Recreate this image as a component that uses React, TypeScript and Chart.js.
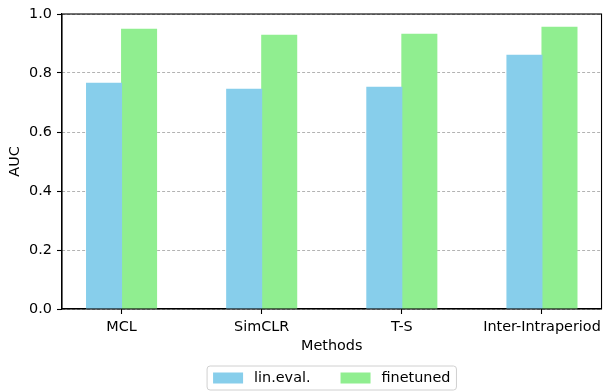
import React, { useEffect, useRef } from "react";
import { Chart, registerables } from "chart.js";

Chart.register(...registerables);

const categories = ["MCL", "SimCLR", "T-S", "Inter-Intraperiod"];
const linEval = [0.765, 0.745, 0.752, 0.86];
const finetuned = [0.948, 0.928, 0.931, 0.955];
const yTicks = [0, 0.2, 0.4, 0.6, 0.8, 1.0];
const seriesLabels = ["lin.eval.", "finetuned"];
const seriesColors = ["#87CEEB", "#90EE90"];

const FONT = "DejaVu Sans";
const FS = 14.4;

const framePlugin = {
  id: "frameAndLegend",
  afterDraw(chart: any) {
    const { ctx, chartArea: a } = chart;
    ctx.save();
    // spines
    ctx.strokeStyle = "#000";
    ctx.lineWidth = 1.1;
    ctx.strokeRect(a.left, a.top, a.right - a.left, a.bottom - a.top);

    // legend
    ctx.font = `${FS}px "${FONT}"`;
    const pad = 6, handle = 30, textPad = 11, colSpace = 30;
    const widths = seriesLabels.map((l) => ctx.measureText(l).width);
    const total = pad * 2 + seriesLabels.length * (handle + textPad) + widths.reduce((s, w) => s + w, 0) + colSpace * (seriesLabels.length - 1);
    const cx = (a.left + a.right) / 2;
    const left = cx - total / 2;
    const top = a.bottom + 57;
    const h = 24;
    const r = 3;
    ctx.beginPath();
    ctx.moveTo(left + r, top);
    ctx.arcTo(left + total, top, left + total, top + h, r);
    ctx.arcTo(left + total, top + h, left, top + h, r);
    ctx.arcTo(left, top + h, left, top, r);
    ctx.arcTo(left, top, left + total, top, r);
    ctx.closePath();
    ctx.fillStyle = "rgba(255,255,255,0.8)";
    ctx.fill();
    ctx.strokeStyle = "#d0d0d0";
    ctx.lineWidth = 1;
    ctx.stroke();

    let x = left + pad;
    const midY = top + h / 2;
    seriesLabels.forEach((label, i) => {
      ctx.fillStyle = seriesColors[i];
      ctx.fillRect(x, midY - 5.5, handle, 11);
      x += handle + textPad;
      ctx.fillStyle = "#000";
      ctx.textBaseline = "middle";
      ctx.textAlign = "left";
      ctx.fillText(label, x, midY);
      x += widths[i] + colSpace;
    });
    ctx.restore();
  },
};

export default function App() {
  const ref = useRef<HTMLCanvasElement | null>(null);

  useEffect(() => {
    if (!ref.current) return;
    const chart = new Chart(ref.current, {
      type: "bar",
      data: {
        datasets: [
          {
            label: seriesLabels[0],
            data: linEval.map((v, i) => ({ x: i, y: v })),
            backgroundColor: seriesColors[0],
            borderWidth: 0,
            inflateAmount: 0.5,
            categoryPercentage: 0.5,
            barPercentage: 1.0,
          },
          {
            label: seriesLabels[1],
            data: finetuned.map((v, i) => ({ x: i, y: v })),
            backgroundColor: seriesColors[1],
            borderWidth: 0,
            inflateAmount: 0.5,
            categoryPercentage: 0.5,
            barPercentage: 1.0,
          },
        ],
      },
      options: {
        responsive: false,
        animation: false,
        events: [],
        layout: { padding: { left: 0, right: 2, top: 14, bottom: 36 } },
        plugins: {
          legend: { display: false },
          tooltip: { enabled: false },
        },
        scales: {
          x: {
            type: "linear",
            min: -0.425,
            max: 3.425,
            offset: false,
            afterBuildTicks: (s: any) => {
              s.ticks = categories.map((_, i) => ({ value: i }));
            },
            afterFit: (s: any) => {
              s.height = 46;
            },
            grid: {
              offset: false,
              drawOnChartArea: false,
              drawTicks: true,
              tickLength: 5,
              tickColor: "#000",
              tickWidth: 1.1,
            },
            border: { display: true, color: "#000", width: 1.1 },
            ticks: {
              autoSkip: false,
              maxRotation: 0,
              padding: 5,
              color: "#000",
              font: { family: FONT, size: FS },
              callback: (v: any) => categories[Math.round(Number(v))] ?? "",
            },
            title: {
              display: true,
              text: "Methods",
              color: "#000",
              font: { family: FONT, size: FS },
              padding: { top: 0, bottom: 0 },
            },
          },
          y: {
            type: "linear",
            min: 0,
            max: 1,
            z: 1,
            afterBuildTicks: (s: any) => {
              s.ticks = yTicks.map((v) => ({ value: v }));
            },
            afterFit: (s: any) => {
              s.width = 62;
            },
            grid: {
              color: "rgba(128,128,128,0.75)",
              lineWidth: 0.8,
              drawTicks: true,
              tickLength: 5,
              tickColor: "#000",
              tickWidth: 1.1,
              tickBorderDash: [],
            },
            border: { display: true, color: "#000", width: 1.1, dash: [3, 2] },
            ticks: {
              padding: 5,
              color: "#000",
              font: { family: FONT, size: FS },
              callback: (v: any) => Number(v).toFixed(1),
            },
            title: {
              display: true,
              text: "AUC",
              color: "#000",
              font: { family: FONT, size: FS },
              padding: { top: 7, bottom: 0 },
            },
          },
        },
      },
      plugins: [framePlugin],
    } as any);
    return () => chart.destroy();
  }, []);

  return (
    <div style={{ position: "fixed", left: 0, top: 0, width: 606, height: 391, background: "#fff" }}>
      <canvas ref={ref} width={606} height={391} style={{ display: "block" }} />
    </div>
  );
}
